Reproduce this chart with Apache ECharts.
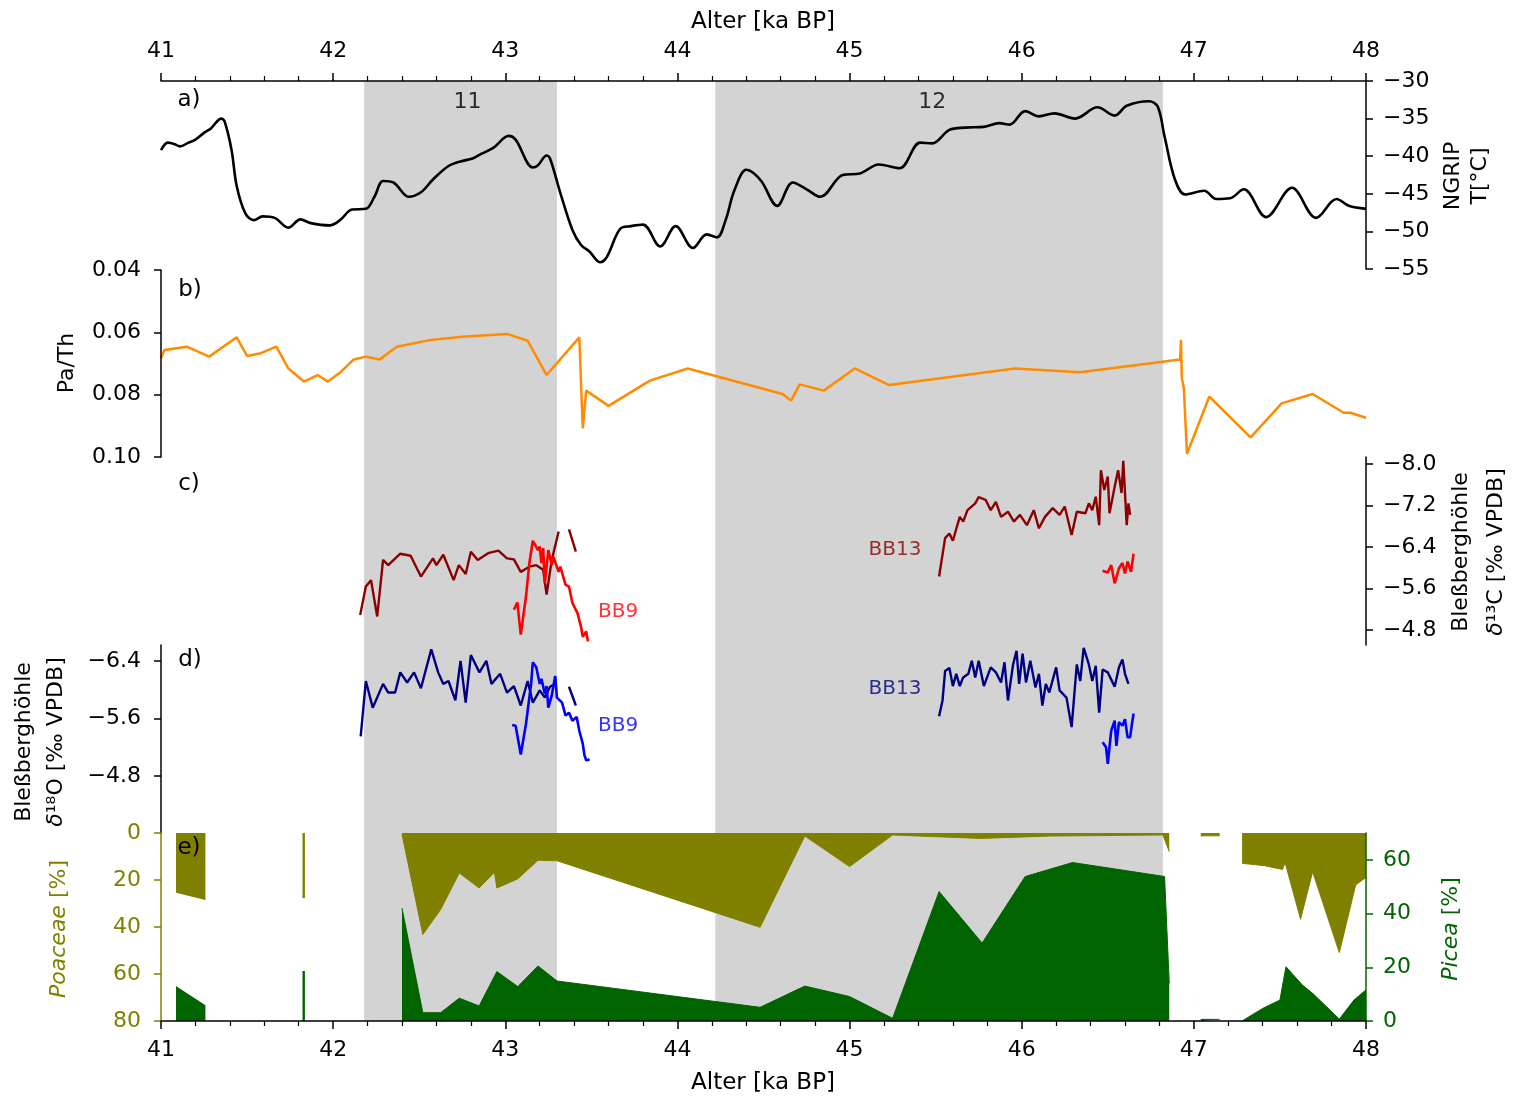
<!DOCTYPE html>
<html><head><meta charset="utf-8">
<script src="https://cdn.jsdelivr.net/npm/echarts@6/dist/echarts.min.js"></script>
<style>html,body{margin:0;padding:0;background:#fff}#c{width:1523px;height:1097px}</style>
</head><body><div id="c"></div>
<script>
const FONT = 'DejaVu Sans';
const ageTicks = [41, 42, 43, 44, 45, 46, 47, 48];
const shadeStart = [42.18, 44.22];
const shadeEnd = [43.30, 46.82];
const eventNames = ['11', '12'];
const eventAge = [42.78, 45.48];
const eventT = [-32.8, -32.8];

const ngripAge = [41.00,41.04,41.08,41.11,41.16,41.20,41.25,41.29,41.35,41.37,41.41,41.44,41.49,41.54,41.59,41.66,41.74,41.81,41.87,41.98,42.04,42.11,42.19,42.24,42.29,42.35,42.44,42.51,42.58,42.67,42.74,42.81,42.86,42.93,43.02,43.06,43.16,43.19,43.24,43.26,43.32,43.39,43.44,43.49,43.55,43.59,43.67,43.73,43.80,43.90,43.99,44.09,44.17,44.23,44.28,44.33,44.40,44.44,44.49,44.58,44.67,44.75,44.83,44.96,45.06,45.17,45.29,45.41,45.48,45.58,45.67,45.78,45.87,45.93,46.02,46.10,46.19,46.31,46.44,46.54,46.61,46.74,46.79,46.83,46.89,46.95,47.06,47.13,47.21,47.29,47.42,47.57,47.71,47.83,47.90,48.00];
const ngripT = [-39.2,-38.2,-38.4,-38.7,-38.2,-37.8,-36.9,-36.3,-35.0,-35.4,-39.2,-44.0,-47.6,-48.5,-48.0,-48.2,-49.5,-48.4,-48.9,-49.2,-48.5,-47.1,-47.0,-45.4,-43.3,-43.5,-45.4,-44.8,-43.1,-41.3,-40.7,-40.3,-39.7,-38.9,-37.3,-37.8,-41.5,-41.2,-39.9,-40.3,-44.9,-49.8,-51.8,-52.7,-54.1,-53.4,-49.6,-49.3,-49.1,-52.0,-49.3,-52.2,-50.4,-50.8,-48.5,-44.6,-41.8,-42.2,-43.4,-46.6,-43.5,-44.4,-45.4,-42.5,-42.3,-41.1,-41.6,-38.2,-38.3,-36.5,-36.2,-36.1,-35.6,-35.8,-34.0,-34.7,-34.3,-35.0,-33.5,-34.6,-33.3,-32.7,-33.4,-37.4,-43.1,-45.1,-44.6,-45.7,-45.6,-44.4,-48.1,-44.2,-48.2,-45.7,-46.6,-47.0];
const ngripTicks = [-55, -50, -45, -40, -35, -30];

const paThAge = [41.00,41.02,41.15,41.28,41.44,41.50,41.58,41.67,41.74,41.83,41.91,41.97,42.04,42.12,42.19,42.27,42.37,42.56,42.75,43.01,43.13,43.24,43.43,43.45,43.47,43.60,43.84,44.06,44.61,44.66,44.71,44.85,45.03,45.23,45.96,46.34,46.92,46.925,46.93,46.937,46.942,46.96,47.09,47.33,47.51,47.69,47.87,47.91,48.00];
const paThVal = [0.0683,0.0657,0.0646,0.0678,0.0616,0.0676,0.0667,0.0646,0.0716,0.0758,0.0737,0.0758,0.0729,0.0687,0.0678,0.0687,0.0646,0.0625,0.0614,0.0605,0.0627,0.0737,0.0616,0.0908,0.0787,0.0836,0.0755,0.0716,0.0798,0.0819,0.0767,0.0787,0.0716,0.0769,0.0716,0.0728,0.0687,0.0625,0.0747,0.0765,0.0781,0.0990,0.0806,0.0937,0.0828,0.0798,0.0858,0.0858,0.0874];
const paThTicks = [0.04, 0.06, 0.08, 0.10];

const bb13CAge = [42.157,42.19,42.22,42.256,42.29,42.32,42.39,42.45,42.51,42.58,42.60,42.64,42.70,42.73,42.77,42.80,42.84,42.90,42.96,43.01,43.05,43.09,43.14,43.18,43.22,43.24,43.27,43.31,43.34,43.37,43.41,44.5,45.52,45.555,45.58,45.60,45.64,45.66,45.685,45.73,45.75,45.79,45.82,45.85,45.88,45.92,45.955,45.99,46.03,46.07,46.10,46.135,46.18,46.22,46.25,46.29,46.32,46.37,46.39,46.41,46.43,46.45,46.46,46.48,46.50,46.51,46.54,46.56,46.58,46.59,46.61,46.62,46.63];
const bb13CVal = [-5.09,-5.64,-5.76,-5.06,-6.15,-6.05,-6.27,-6.23,-5.83,-6.18,-6.05,-6.25,-5.76,-6.05,-5.88,-6.31,-6.15,-6.28,-6.33,-6.18,-6.16,-5.92,-6.02,-6.05,-5.96,-5.48,-6.15,-6.70,null,-6.74,-6.31,null,-5.83,-6.57,-6.66,-6.52,-6.98,-6.89,-7.11,-7.24,-7.36,-7.31,-7.11,-7.27,-6.98,-7.08,-6.89,-7.02,-6.82,-7.11,-6.76,-6.98,-7.15,-7.02,-7.18,-6.63,-7.08,-7.05,-7.24,-7.11,-7.37,-6.82,-7.88,-7.50,-7.76,-7.05,-7.56,-7.88,-7.44,-8.06,-6.82,-7.24,-7.02];
const bb9CAge = [43.05,43.07,43.09,43.12,43.14,43.16,43.19,43.20,43.21,43.22,43.23,43.25,43.27,43.28,43.31,43.32,43.35,43.37,43.39,43.42,43.44,43.45,43.47,43.48,45.0,46.47,46.50,46.52,46.54,46.565,46.585,46.60,46.615,46.635,46.65];
const bb9CVal = [-5.19,-5.33,-4.71,-5.44,-6.09,-6.52,-6.34,-6.41,-6.09,-6.38,-5.70,-6.34,-6.05,-6.21,-5.92,-6.02,-5.67,-5.64,-5.32,-5.12,-4.86,-4.67,-4.77,-4.58,null,-5.94,-5.91,-6.05,-5.70,-5.99,-6.09,-5.89,-6.12,-5.92,-6.27];
const d13cTicks = [-8.0, -7.2, -6.4, -5.6, -4.8];

const bb13OAge = [42.16,42.19,42.23,42.29,42.32,42.36,42.39,42.43,42.47,42.51,42.57,42.61,42.64,42.67,42.71,42.74,42.77,42.80,42.85,42.89,42.92,42.97,43.01,43.05,43.09,43.13,43.16,43.20,43.23,43.26,43.29,43.33,43.37,43.41,44.5,45.52,45.54,45.555,45.58,45.60,45.62,45.64,45.66,45.69,45.71,45.73,45.75,45.78,45.82,45.85,45.88,45.90,45.92,45.95,45.97,45.985,46.005,46.025,46.05,46.08,46.10,46.12,46.14,46.16,46.20,46.22,46.26,46.29,46.32,46.34,46.36,46.39,46.41,46.43,46.45,46.47,46.50,46.54,46.565,46.585,46.60,46.62];
const bb13OVal = [-5.35,-6.12,-5.75,-6.08,-5.96,-5.96,-6.24,-6.10,-6.24,-6.02,-6.56,-6.24,-6.08,-6.12,-5.85,-6.40,-5.82,-6.48,-6.24,-6.40,-6.08,-6.22,-5.96,-6.05,-5.78,-6.12,-5.82,-5.99,-5.89,-6.04,-6.08,null,-6.04,-5.78,null,-5.63,-5.85,-6.26,-6.30,-6.05,-6.22,-6.05,-6.17,-6.22,-6.40,-6.17,-6.40,-6.05,-6.31,-6.24,-6.10,-6.38,-5.85,-6.35,-6.54,-6.08,-6.50,-6.10,-6.40,-6.03,-6.22,-5.78,-6.08,-5.96,-6.31,-5.99,-5.89,-5.48,-6.35,-6.12,-6.58,-6.35,-6.12,-6.33,-5.68,-6.28,-6.24,-6.04,-6.31,-6.42,-6.22,-6.08];
const bb9OAge = [43.04,43.06,43.09,43.12,43.15,43.16,43.18,43.20,43.21,43.23,43.24,43.25,43.27,43.29,43.30,43.33,43.35,43.37,43.39,43.415,43.43,43.45,43.46,43.47,43.49,45.0,46.47,46.49,46.50,46.52,46.54,46.55,46.565,46.585,46.60,46.615,46.63,46.64,46.65];
const bb9OVal = [-5.51,-5.50,-5.10,-5.52,-6.08,-6.38,-6.31,-6.08,-6.15,-5.94,-6.05,-5.75,-5.92,-6.19,-5.89,-5.82,-5.64,-5.68,-5.57,-5.62,-5.43,-5.25,-5.09,-5.02,-5.03,null,-5.27,-5.20,-4.97,-5.43,-5.57,-5.22,-5.55,-5.50,-5.59,-5.34,-5.34,-5.52,-5.67];
const d18oTicks = [-6.4, -5.6, -4.8];

const seriesLabelText = ['BB13', 'BB9'];
const labelAgeC = [45.264, 43.655];
const labelValC = [-6.343, -5.148];
const labelAgeO = [45.264, 43.655];
const labelValO = [-6.013, -5.501];

const poaceaeAge = [41.087,41.258,41.5,41.822,41.836,42.1,42.40,42.521,42.624,42.733,42.848,42.937,42.951,43.073,43.19,43.30,44.48,44.74,45.0,45.25,45.76,46.16,46.82,46.857,46.95,47.04,47.15,47.2,47.28,47.41,47.515,47.53,47.62,47.69,47.845,47.94,48.0];
const poaceaeVal = [25.2,28.3,null,27.5,27.5,null,0.5,43.2,32.6,17.0,23.4,16.7,23.4,19.5,11.6,11.8,40.1,1.3,14.3,0.85,2.3,1.3,0.85,7.9,null,1.2,1.2,null,12.9,13.9,15.5,12.6,36.7,16.5,50.9,22.1,18.9];
const piceaAge = [41.087,41.258,41.5,41.822,41.836,42.1,42.40,42.521,42.624,42.733,42.848,42.951,43.073,43.19,43.30,44.48,44.74,45.0,45.25,45.52,45.77,46.02,46.295,46.83,46.857,46.95,47.04,47.15,47.2,47.28,47.40,47.50,47.535,47.63,47.69,47.845,47.93,48.0];
const piceaVal = [12.8,5.7,null,18.4,18.4,null,42.0,3.1,3.1,8.5,5.6,18.4,12.8,20.5,14.9,5.1,13.0,9.1,1.0,48.2,29.0,53.8,59.0,53.8,14.0,null,0.6,0.6,null,0,4.7,7.8,20.2,13.4,10.3,0.7,7.8,11.6];
const poaceaeTicks = [0, 20, 40, 60, 80];
const piceaTicks = [0, 20, 40, 60];

const OLIVE = '#808000', GREEN = '#006400';
const zip = (a, v) => a.map((x, i) => [x, v[i] == null ? '-' : v[i]]);
const fmt = (v, d) => Number(v).toFixed(d).replace('-', '\u2212');

function xa(grid, pos, show) {
  return {type: 'value', gridIndex: grid, position: pos, min: 41, max: 48, interval: 1, show: show, z: 10,
    axisLine: {show: true, onZero: false, lineStyle: {color: '#000', width: 1.5}},
    axisTick: {show: true, length: 8, lineStyle: {color: '#000', width: 1.5}},
    minorTick: {show: true, splitNumber: 5, length: 5, lineStyle: {color: '#000', width: 1.2}},
    axisLabel: {show: true, margin: pos === 'top' ? 19 : 18, fontSize: 22, fontFamily: FONT, color: '#000',
      customValues: ageTicks, formatter: v => String(Math.round(v))},
    splitLine: {show: false}, minorSplitLine: {show: false}};
}
function ya(grid, pos, min, max, ticks, dec, inverse, color) {
  return {type: 'value', gridIndex: grid, position: pos, min: min, max: max, inverse: inverse, z: 10,
    axisLine: {show: true, onZero: false, lineStyle: {color: color, width: 1.5}},
    axisTick: {show: true, length: 7, customValues: ticks, lineStyle: {color: color, width: 1.5}},
    axisLabel: {show: true, margin: pos === 'left' ? 20 : 17, fontSize: 22, fontFamily: FONT, color: color, customValues: ticks,
      formatter: v => fmt(v, dec)},
    splitLine: {show: false}};
}
const L = 161, W = 1205;
function txt(x, y, text, opt) {
  opt = opt || {};
  return {type: 'text', x: x, y: y, rotation: opt.rot ? Math.PI / 2 : 0, z: 100,
    style: {text: text, fontSize: opt.size || 22, fontFamily: FONT, fill: opt.color || '#000',
      align: 'center', verticalAlign: 'middle', textAlign: 'center', textVerticalAlign: 'middle',
      rich: {i: {fontStyle: 'italic', fontSize: opt.size || 22, fontFamily: FONT, fill: opt.color || '#000'}}}};
}
function labelSeries(xi, yi, ages, vals, colors) {
  return {type: 'scatter', xAxisIndex: xi, yAxisIndex: yi, symbolSize: 0.1, z: 5, silent: true,
    itemStyle: {color: 'rgba(0,0,0,0)'},
    data: ages.map((a, i) => ({value: [a, vals[i]], label: {show: true, position: 'inside', formatter: seriesLabelText[i],
      color: colors[i], fontSize: 20, fontFamily: FONT}}))};
}
function lineSeries(xi, yi, data, color, width, extra) {
  return Object.assign({type: 'line', xAxisIndex: xi, yAxisIndex: yi, data: data, symbol: 'none', showSymbol: false,
    lineStyle: {color: color, width: width}, itemStyle: {color: color}, z: 3, silent: true, connectNulls: false}, extra || {});
}

const option = {
  animation: false,
  backgroundColor: '#fff',
  grid: [
    {left: L, width: W, top: 81, height: 188, outerBoundsMode: 'none'},
    {left: L, width: W, top: 270, height: 187, outerBoundsMode: 'none'},
    {left: L, width: W, top: 457, height: 188, outerBoundsMode: 'none'},
    {left: L, width: W, top: 645, height: 188, outerBoundsMode: 'none'},
    {left: L, width: W, top: 833, height: 188, outerBoundsMode: 'none'},
    {left: L, width: W, top: 81, height: 940, outerBoundsMode: 'none'}
  ],
  xAxis: [xa(0, 'top', true), xa(1, 'bottom', false), xa(2, 'bottom', false), xa(3, 'bottom', false), xa(4, 'bottom', true), xa(5, 'bottom', false)],
  yAxis: [
    ya(0, 'right', -55, -30, ngripTicks, 0, false, '#000'),
    ya(1, 'left', 0.04, 0.10, paThTicks, 2, true, '#000'),
    ya(2, 'right', -8.135, -4.51, d13cTicks, 1, true, '#000'),
    ya(3, 'left', -6.62, -4.01, d18oTicks, 1, true, '#000'),
    ya(4, 'left', 0, 80, poaceaeTicks, 0, true, OLIVE),
    ya(4, 'right', 0, 70, piceaTicks, 0, false, GREEN),
    {type: 'value', gridIndex: 5, min: 0, max: 1, show: false}
  ],
  series: [
    {type: 'line', xAxisIndex: 5, yAxisIndex: 6, data: [[41, 0.5]], symbol: 'none', lineStyle: {width: 0, opacity: 0}, z: 1, silent: true,
      markArea: {silent: true, itemStyle: {color: '#d3d3d3'}, label: {show: false},
        data: shadeStart.map((s, i) => [{xAxis: s}, {xAxis: shadeEnd[i]}])}},
    lineSeries(0, 0, zip(ngripAge, ngripT), '#000', 2.6, {smooth: 0.35}),
    {type: 'scatter', xAxisIndex: 0, yAxisIndex: 0, symbolSize: 0.1, z: 5, silent: true, itemStyle: {color: 'rgba(0,0,0,0)'},
      data: eventAge.map((a, i) => ({value: [a, eventT[i]], label: {show: true, position: 'inside', formatter: eventNames[i], color: '#000', fontSize: 22, fontFamily: FONT}}))},
    lineSeries(1, 1, zip(paThAge, paThVal), '#ff8c00', 2.5),
    lineSeries(2, 2, zip(bb13CAge, bb13CVal), '#8b0000', 2.4),
    lineSeries(2, 2, zip(bb9CAge, bb9CVal), '#ff0000', 2.6),
    lineSeries(3, 3, zip(bb13OAge, bb13OVal), '#000080', 2.4),
    lineSeries(3, 3, zip(bb9OAge, bb9OVal), '#0000ff', 2.6),
    labelSeries(2, 2, labelAgeC, labelValC, ['#8b0000', '#ff0000']),
    labelSeries(3, 3, labelAgeO, labelValO, ['#000080', '#0000ff']),
    lineSeries(4, 4, zip(poaceaeAge, poaceaeVal), OLIVE, 1, {areaStyle: {color: OLIVE, opacity: 1, origin: 'start'}}),
    lineSeries(4, 5, zip(piceaAge, piceaVal), GREEN, 1, {areaStyle: {color: GREEN, opacity: 1, origin: 'start'}})
  ],
  graphic: [
    txt(763, 22, 'Alter [ka BP]', {size: 23}),
    txt(763, 1083, 'Alter [ka BP]', {size: 23}),
    txt(1453, 176, 'NGRIP', {rot: true}),
    txt(1480, 176, 'T[°C]', {rot: true}),
    txt(67, 363, 'Pa/Th', {rot: true}),
    txt(1461, 552, 'Bleßberghöhle', {rot: true}),
    txt(1496, 552, '{i|δ}¹³C [‰ VPDB]', {rot: true}),
    txt(24, 742, 'Bleßberghöhle', {rot: true}),
    txt(56, 742, '{i|δ}¹⁸O [‰ VPDB]', {rot: true}),
    txt(59, 929, '{i|Poaceae} [%]', {rot: true, color: OLIVE}),
    txt(1451, 929, '{i|Picea} [%]', {rot: true, color: GREEN}),
    txt(189, 100, 'a)', {size: 23}),
    txt(190, 290, 'b)', {size: 23}),
    txt(189, 484, 'c)', {size: 23}),
    txt(190, 660, 'd)', {size: 23}),
    txt(189, 848, 'e)', {size: 23})
  ]
};
const chart = echarts.init(document.getElementById('c'), null, {renderer: 'canvas'});
chart.setOption(option);
</script></body></html>
